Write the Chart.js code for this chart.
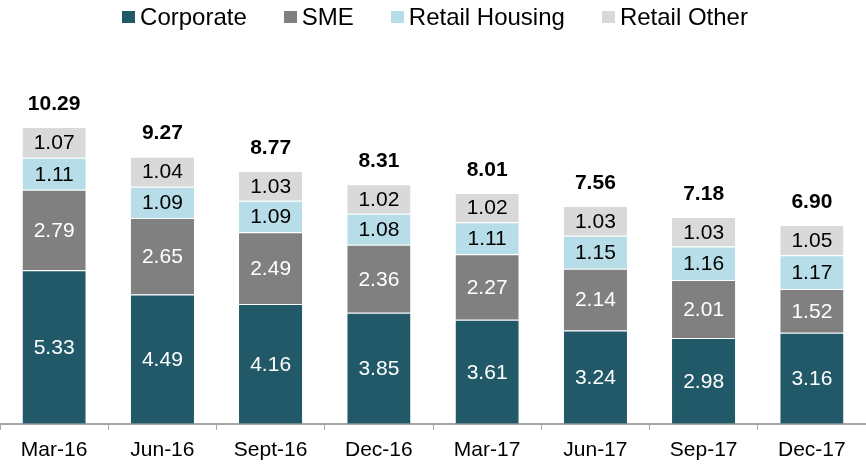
<!DOCTYPE html>
<html>
<head>
<meta charset="utf-8">
<script src="https://cdn.jsdelivr.net/npm/chart.js@4"></script>
<style>
  html, body { margin: 0; padding: 0; background: #fff; }
  #wrap { width: 866px; height: 469px; }
</style>
</head>
<body>
<div id="wrap"><canvas id="npa-chart" width="866" height="469"></canvas></div>
<script>
const quarters = ["Mar-16", "Jun-16", "Sept-16", "Dec-16", "Mar-17", "Jun-17", "Sep-17", "Dec-17"];
const corporate = [5.33, 4.49, 4.16, 3.85, 3.61, 3.24, 2.98, 3.16];
const sme = [2.79, 2.65, 2.49, 2.36, 2.27, 2.14, 2.01, 1.52];
const retailHousing = [1.11, 1.09, 1.09, 1.08, 1.11, 1.15, 1.16, 1.17];
const retailOther = [1.07, 1.04, 1.03, 1.02, 1.02, 1.03, 1.03, 1.05];
const totals = [10.29, 9.27, 8.77, 8.31, 8.01, 7.56, 7.18, 6.90];

const FONT = "'Liberation Sans', Arial, sans-serif";

// legend row: small square + name, items centred across the canvas
const topLegend = {
  id: "topLegend",
  afterDraw(chart) {
    const { ctx, width } = chart;
    const box = 13, gap = 5, spacing = 37, y = 17;
    ctx.save();
    ctx.font = "24px " + FONT;
    ctx.textBaseline = "middle";
    ctx.textAlign = "left";
    const items = chart.data.datasets.map((ds) => ({
      label: ds.label,
      color: ds.backgroundColor,
      w: box + gap + ctx.measureText(ds.label).width,
    }));
    const total = items.reduce((s, it) => s + it.w, 0) + spacing * (items.length - 1);
    let x = (width - total) / 2 + 2;
    items.forEach((it) => {
      ctx.fillStyle = it.color;
      ctx.fillRect(Math.round(x), y - 6, box, 12);
      ctx.fillStyle = "#000";
      ctx.fillText(it.label, x + box + gap, y + 1);
      x += it.w + spacing;
    });
    ctx.restore();
  },
};

// segment values inside each bar, plus the bold total above the stack
const barLabels = {
  id: "barLabels",
  afterDatasetsDraw(chart) {
    const { ctx } = chart;
    ctx.save();
    ctx.textAlign = "center";
    ctx.textBaseline = "middle";
    ctx.font = "21px " + FONT;
    chart.data.datasets.forEach((ds, i) => {
      const meta = chart.getDatasetMeta(i);
      meta.data.forEach((bar, j) => {
        const mid = (bar.y + bar.base) / 2;
        ctx.fillStyle = ds.labelColor;
        ctx.fillText(ds.data[j].toFixed(2), bar.x, mid + 1);
      });
    });
    const top = chart.getDatasetMeta(chart.data.datasets.length - 1);
    ctx.font = "bold 21px " + FONT;
    ctx.fillStyle = "#000";
    top.data.forEach((bar, j) => {
      ctx.fillText(totals[j].toFixed(2), bar.x, bar.y - 23);
    });
    ctx.restore();
  },
};

const ctx = document.getElementById("npa-chart").getContext("2d");

const makeSet = (label, data, color, labelColor) => ({
  label,
  data,
  backgroundColor: color,
  borderColor: "#ffffff",
  borderWidth: { top: 1, bottom: 0, left: 0, right: 0 },
  borderSkipped: false,
  labelColor,
  categoryPercentage: 1,
  barPercentage: 0.584,
});

new Chart(ctx, {
  type: "bar",
  data: {
    labels: quarters,
    datasets: [
      makeSet("Corporate", corporate, "#215968", "#ffffff"),
      makeSet("SME", sme, "#808080", "#ffffff"),
      makeSet("Retail Housing", retailHousing, "#b7dee8", "#000000"),
      makeSet("Retail Other", retailOther, "#d9d9d9", "#000000"),
    ],
  },
  options: {
    responsive: false,
    animation: false,
    layout: { padding: { left: -3, right: 0, top: 78, bottom: -2 } },
    plugins: {
      legend: { display: false },
      tooltip: { enabled: false },
    },
    scales: {
      x: {
        stacked: true,
        offset: true,
        border: { display: true, color: "#a6a6a6", width: 2 },
        grid: {
          offset: true,
          drawOnChartArea: false,
          drawTicks: true,
          tickLength: 6,
          color: "#a6a6a6",
        },
        ticks: {
          color: "#000",
          padding: 8,
          font: { family: FONT, size: 21 },
        },
      },
      y: {
        stacked: true,
        display: false,
        min: 0,
        max: 12,
      },
    },
  },
  plugins: [barLabels, topLegend],
});
</script>
</body>
</html>
